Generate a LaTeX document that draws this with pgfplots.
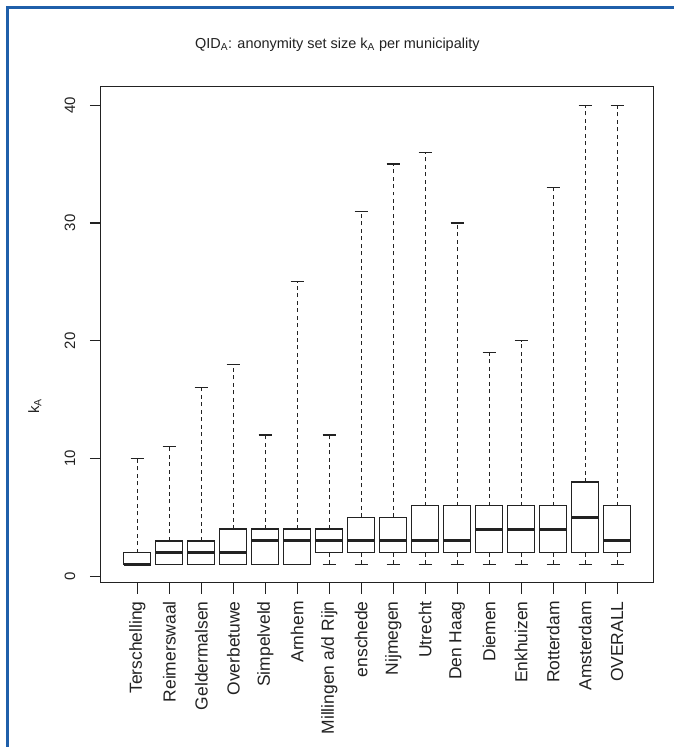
\documentclass[border=0pt]{standalone}
\usepackage{pgfplots}
\pgfplotsset{compat=1.18}
\usepgfplotslibrary{statistics}
\usepackage{fontspec}
\setmainfont{Liberation Sans}
\definecolor{frameblue}{HTML}{1F5FAA}
\definecolor{ink}{HTML}{222222}
\begin{document}
\begin{tikzpicture}[x=1pt,y=1pt]
\path (0,0) rectangle (675,748);
\draw[frameblue, line width=3pt] (7.5,0) -- (7.5,740.5) -- (675,740.5);
\node[font=\fontsize{14.5}{14}\selectfont, text=ink] at (338,703) {QID\textsubscript{A}: anonymity set size k\textsubscript{A} per municipality};
\node[rotate=90, font=\fontsize{15}{14}\selectfont, text=ink] at (35,341) {k\textsubscript{A}};
\begin{axis}[
  at={(101pt,164pt)}, anchor=south west,
  scale only axis, width=554pt, height=497pt,
  xmin=-0.14, xmax=17.14, ymin=-0.56, ymax=41.56,
  xtick={1,...,16},
  xticklabels={Terschelling,Reimerswaal,Geldermalsen,Overbetuwe,Simpelveld,Arnhem,Millingen a/d Rijn,enschede,Nijmegen,Utrecht,Den Haag,Diemen,Enkhuizen,Rotterdam,Amsterdam,OVERALL},
  ytick={0,10,20,30,40},
  tick align=outside, xtick pos=bottom, ytick pos=left,
  major tick length=11pt,
  tick style={ink, line width=1.1pt},
  axis line style={ink, line width=1.3pt},
  xticklabel style={rotate=90, anchor=east, xshift=-4pt, font=\fontsize{17.5}{14}\selectfont, text=ink},
  yticklabel style={rotate=90, anchor=south, yshift=11pt, font=\fontsize{15}{14}\selectfont, text=ink},
  /pgf/number format/assume math mode=true,
  boxplot/draw direction=y,
  boxplot/box extend=0.84,
  boxplot/whisker extend=0.42,
  boxplot/every box/.style={draw=ink, line width=1.3pt},
  boxplot/every median/.style={draw=ink, line width=3pt},
  boxplot/draw/upper whisker/.code={%
    \draw[ink, line width=1.2pt, dash pattern=on 4pt off 3.5pt]
      (boxplot box cs:\pgfplotsboxplotvalue{upper quartile},0.5) --
      (boxplot box cs:\pgfplotsboxplotvalue{upper whisker},0.5);
    \draw[ink, line width=1.3pt]
      (boxplot whisker cs:\pgfplotsboxplotvalue{upper whisker},0) --
      (boxplot whisker cs:\pgfplotsboxplotvalue{upper whisker},1);
  },
  boxplot/draw/lower whisker/.code={%
    \draw[ink, line width=1.2pt, dash pattern=on 4pt off 3.5pt]
      (boxplot box cs:\pgfplotsboxplotvalue{lower quartile},0.5) --
      (boxplot box cs:\pgfplotsboxplotvalue{lower whisker},0.5);
    \draw[ink, line width=1.3pt]
      (boxplot whisker cs:\pgfplotsboxplotvalue{lower whisker},0) --
      (boxplot whisker cs:\pgfplotsboxplotvalue{lower whisker},1);
  },
]
\addplot[boxplot prepared={draw position=1, lower whisker=1, lower quartile=1, median=1, upper quartile=2, upper whisker=10}] coordinates {};
\addplot[boxplot prepared={draw position=2, lower whisker=1, lower quartile=1, median=2, upper quartile=3, upper whisker=11}] coordinates {};
\addplot[boxplot prepared={draw position=3, lower whisker=1, lower quartile=1, median=2, upper quartile=3, upper whisker=16}] coordinates {};
\addplot[boxplot prepared={draw position=4, lower whisker=1, lower quartile=1, median=2, upper quartile=4, upper whisker=18}] coordinates {};
\addplot[boxplot prepared={draw position=5, lower whisker=1, lower quartile=1, median=3, upper quartile=4, upper whisker=12}] coordinates {};
\addplot[boxplot prepared={draw position=6, lower whisker=1, lower quartile=1, median=3, upper quartile=4, upper whisker=25}] coordinates {};
\addplot[boxplot prepared={draw position=7, lower whisker=1, lower quartile=2, median=3, upper quartile=4, upper whisker=12}] coordinates {};
\addplot[boxplot prepared={draw position=8, lower whisker=1, lower quartile=2, median=3, upper quartile=5, upper whisker=31}] coordinates {};
\addplot[boxplot prepared={draw position=9, lower whisker=1, lower quartile=2, median=3, upper quartile=5, upper whisker=35}] coordinates {};
\addplot[boxplot prepared={draw position=10, lower whisker=1, lower quartile=2, median=3, upper quartile=6, upper whisker=36}] coordinates {};
\addplot[boxplot prepared={draw position=11, lower whisker=1, lower quartile=2, median=3, upper quartile=6, upper whisker=30}] coordinates {};
\addplot[boxplot prepared={draw position=12, lower whisker=1, lower quartile=2, median=4, upper quartile=6, upper whisker=19}] coordinates {};
\addplot[boxplot prepared={draw position=13, lower whisker=1, lower quartile=2, median=4, upper quartile=6, upper whisker=20}] coordinates {};
\addplot[boxplot prepared={draw position=14, lower whisker=1, lower quartile=2, median=4, upper quartile=6, upper whisker=33}] coordinates {};
\addplot[boxplot prepared={draw position=15, lower whisker=1, lower quartile=2, median=5, upper quartile=8, upper whisker=40}] coordinates {};
\addplot[boxplot prepared={draw position=16, lower whisker=1, lower quartile=2, median=3, upper quartile=6, upper whisker=40}] coordinates {};
\end{axis}
\end{tikzpicture}
\end{document}
